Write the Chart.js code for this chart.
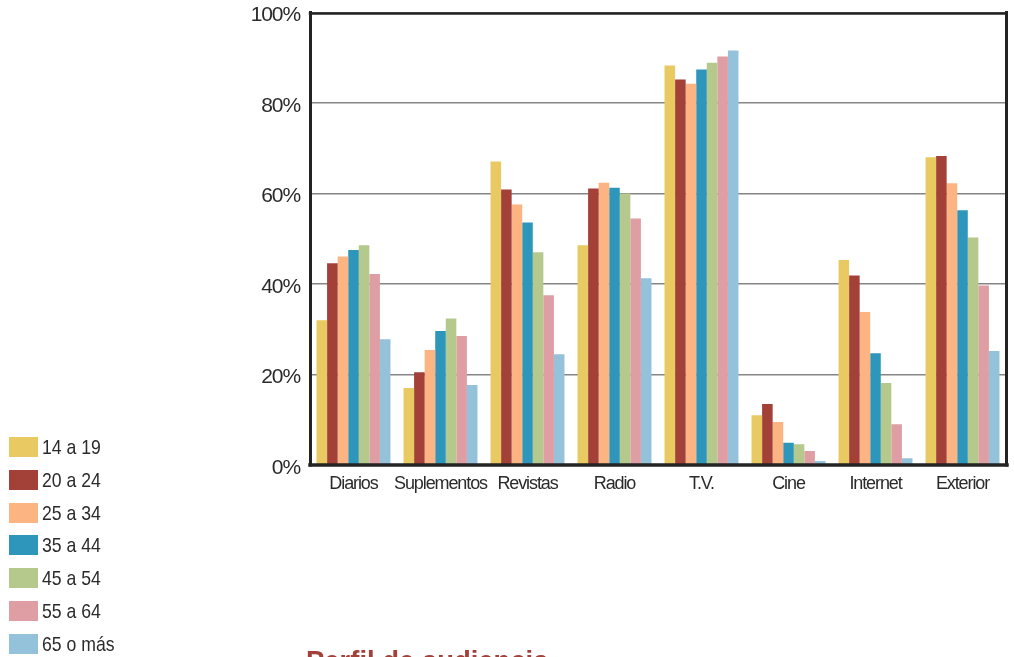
<!DOCTYPE html>
<html>
<head>
<meta charset="utf-8">
<script src="https://cdn.jsdelivr.net/npm/chart.js@4/dist/chart.umd.min.js"></script>
<style>
  html, body { margin: 0; padding: 0; background: #fff; width: 1014px; height: 657px; overflow: hidden; }
  #wrap { position: relative; width: 1014px; height: 657px; overflow: hidden; }
  #chart { position: absolute; left: 0; top: -10px; }
  #legend { position: absolute; left: 9px; top: 437px; font-family: "Liberation Sans", Arial, sans-serif; font-size: 21px; color: #2b2b2b; }
  .item { display: flex; align-items: center; height: 20px; margin-bottom: 12.8px; white-space: nowrap; }
  .swatch { width: 29px; height: 20px; margin-right: 4px; flex: none; }
  .name { display: inline-block; transform: scaleX(0.84); transform-origin: left center; }
  #title { position: absolute; left: 306px; top: 647px; font-family: "Liberation Sans", Arial, sans-serif; font-weight: bold; font-size: 28px; line-height: 28px; color: #a3403a; white-space: nowrap; transform: scaleX(0.98); transform-origin: left top; }
</style>
</head>
<body>
<div id="wrap">
  <canvas id="chart" width="1014" height="667"></canvas>
  <div id="legend"></div>
  <div id="title">Perfil de audiencia</div>
</div>
<script>
// Media categories on the x axis
const categories = ['Diarios', 'Suplementos', 'Revistas', 'Radio', 'T.V.', 'Cine', 'Internet', 'Exterior'];

// Age groups (one series each)
const seriesNames = ['14 a 19', '20 a 24', '25 a 34', '35 a 44', '45 a 54', '55 a 64', '65 o más'];
const seriesColors = ['#e8c962', '#a34038', '#fbb482', '#2e96ba', '#b5c98c', '#de9ea3', '#94c2da'];

// Audience share (%) per medium, by age group
const age14to19 = [32.0, 17.0, 67.1, 48.6, 88.3, 11.0, 45.3, 68.0];
const age20to24 = [44.6, 20.5, 60.9, 61.1, 85.2, 13.5, 41.9, 68.3];
const age25to34 = [46.1, 25.4, 57.6, 62.4, 84.3,  9.5, 33.8, 62.3];
const age35to44 = [47.5, 29.6, 53.6, 61.3, 87.4,  4.9, 24.7, 56.3];
const age45to54 = [48.6, 32.4, 47.0, 60.0, 88.9,  4.6, 18.1, 50.3];
const age55to64 = [42.2, 28.5, 37.5, 54.5, 90.3,  3.1,  9.0, 39.7];
const age65plus = [27.8, 17.7, 24.5, 41.3, 91.6,  0.9,  1.5, 25.2];

// Y axis tick values
const yTicks = [0, 20, 40, 60, 80, 100];

const seriesValues = [age14to19, age20to24, age25to34, age35to44, age45to54, age55to64, age65plus];

const datasets = seriesNames.map((name, i) => ({
  label: name,
  data: seriesValues[i],
  backgroundColor: seriesColors[i],
  borderWidth: 0,
  categoryPercentage: 0.85,
  barPercentage: 1.0
}));

// Tighter letter spacing for the axis labels (condensed look)
const tightText = {
  id: 'tightText',
  beforeUpdate(chart) { chart.ctx.letterSpacing = '-1.1px'; },
  beforeDraw(chart) { chart.ctx.letterSpacing = '-1.1px'; }
};

// Heavy frame around the plot area
const framePlugin = {
  id: 'frame',
  afterDatasetsDraw(chart) {
    const { ctx, chartArea: a } = chart;
    ctx.save();
    ctx.strokeStyle = '#232323';
    ctx.lineCap = 'square';
    ctx.lineWidth = 2.5;
    ctx.beginPath(); ctx.moveTo(a.left, a.top + 1); ctx.lineTo(a.right, a.top + 1); ctx.stroke();
    ctx.lineWidth = 3;
    ctx.beginPath(); ctx.moveTo(a.left + 0.5, a.top); ctx.lineTo(a.left + 0.5, a.bottom); ctx.stroke();
    ctx.beginPath(); ctx.moveTo(a.right + 0.5, a.top); ctx.lineTo(a.right + 0.5, a.bottom); ctx.stroke();
    ctx.lineWidth = 3.5;
    ctx.beginPath(); ctx.moveTo(a.left, a.bottom); ctx.lineTo(a.right + 1, a.bottom); ctx.stroke();
    ctx.restore();
  }
};

const labelFont = { family: '"Liberation Sans", Arial, sans-serif' };

new Chart(document.getElementById('chart'), {
  type: 'bar',
  data: { labels: categories, datasets },
  options: {
    responsive: false,
    animation: false,
    devicePixelRatio: 1,
    layout: { padding: { left: 0, top: 2, right: 8, bottom: 0 } },
    plugins: { legend: { display: false }, tooltip: { enabled: false } },
    scales: {
      x: {
        grid: { display: false, drawTicks: false },
        border: { display: false },
        ticks: {
          autoSkip: false, maxRotation: 0, minRotation: 0, padding: 8,
          color: '#2b2b2b', font: { ...labelFont, size: 18 }
        },
        afterFit(scale) { scale.height = 192; }
      },
      y: {
        min: 0, max: 100,
        afterBuildTicks(scale) { scale.ticks = yTicks.map(v => ({ value: v })); },
        grid: { color: '#858585', lineWidth: 1.5, drawTicks: false },
        border: { display: false },
        ticks: {
          padding: 10, labelOffset: 3,
          color: '#2b2b2b', font: { ...labelFont, size: 21 },
          callback: v => v + '%'
        },
        afterFit(scale) { scale.width = 310; }
      }
    }
  },
  plugins: [tightText, framePlugin]
});

// Legend built from the same series definitions
const legend = document.getElementById('legend');
seriesNames.forEach((name, i) => {
  const row = document.createElement('div');
  row.className = 'item';
  const sw = document.createElement('span');
  sw.className = 'swatch';
  sw.style.background = seriesColors[i];
  const tx = document.createElement('span');
  tx.className = 'name';
  tx.textContent = name;
  row.appendChild(sw);
  row.appendChild(tx);
  legend.appendChild(row);
});
</script>
</body>
</html>
